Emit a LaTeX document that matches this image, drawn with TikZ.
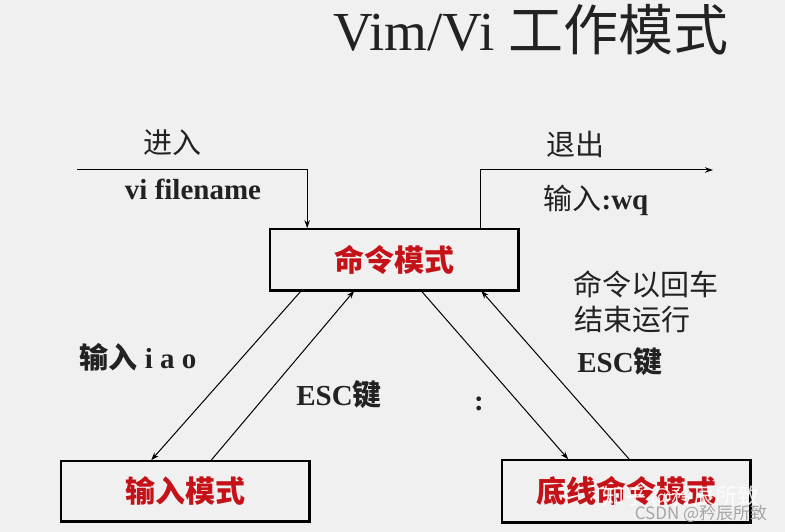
\documentclass[tikz,border=0pt]{standalone}
\usepackage{fontspec}
\setmainfont{Liberation Serif}
\newfontfamily\cjk{Noto Sans CJK SC}
\usetikzlibrary{arrows.meta}
\definecolor{bg}{RGB}{240,240,240}
\definecolor{txt}{RGB}{34,34,34}
\definecolor{boxred}{RGB}{196,18,24}
\begin{document}
\begin{tikzpicture}[x=1pt,y=-1pt,
  modebox/.style={draw=black, line width=1.6pt, minimum width=248pt, text=boxred,
    font=\cjk\bfseries\fontsize{30}{36}\selectfont, inner sep=0pt},
  lbl/.style={text=txt, font=\fontsize{29}{34}\selectfont, inner sep=0pt},
  conn/.style={line width=1pt, -{Stealth[length=8pt,width=5.5pt]}},
  shadowedge/.style={line width=2.8pt}]
\fill[bg] (0,0) rectangle (785,532);
\useasboundingbox (0,0) rectangle (785,532);

% title
\node[anchor=base west, inner sep=0pt, text=txt, font=\fontsize{55}{60}\selectfont] (title) at (333,51) {Vim/Vi {\cjk 工作模式}};

% boxes
\node[modebox, minimum height=61pt] (cmd) at (394,259.5) {命令模式};
\node[modebox, minimum height=60pt] (ins) at (185,491) {输入模式};
\node[modebox, minimum height=62pt] (last) at (626,491) {底线命令模式};
\foreach \b in {cmd,ins,last}{
  \draw[shadowedge] (\b.north east) -- (\b.south east) -- (\b.south west);
}

% entry / exit
\coordinate (entry) at (77,170);
\coordinate (exitend) at (713,170);
\draw[conn] (entry) -| ([xshift=38pt]cmd.north west);
\draw[conn] ([xshift=211pt]cmd.north west) |- (exitend);

% transitions
\draw[conn] ([xshift=32pt]cmd.south west) -- ([xshift=91pt]ins.north west);
\draw[conn] ([xshift=151pt]ins.north west) -- ([xshift=85pt]cmd.south west);
\draw[conn] ([xshift=152pt]cmd.south west) -- ([xshift=67pt]last.north west);
\draw[conn] ([xshift=128pt]last.north west) -- ([xshift=212pt]cmd.south west);

% labels
\node[lbl] (lin) at (172,143) {\cjk 进入};
\node[lbl] (lvi) at (193,189) {\bfseries vi filename};
\node[lbl] (lout) at (575,144) {\cjk 退出};
\node[lbl] (lwq) at (596,200) {{\cjk 输入}\bfseries :wq};
\node[lbl] (lret1) at (646,284) {\cjk 命令以回车};
\node[lbl] (lret2) at (632,320) {\cjk 结束运行};
\node[lbl] (lescr) at (620,362) {\bfseries ESC{\cjk 键}};
\node[lbl] (liao) at (138,357) {{\cjk\bfseries 输入} \bfseries i a o};
\node[lbl] (lescl) at (339,395) {\bfseries ESC{\cjk 键}};
\node[lbl] (lcolon) at (479,404) {\bfseries :};

% watermark
\node[inner sep=0pt, text=white, font=\cjk\fontsize{22}{26}\selectfont, opacity=0.85] (wm1) at (681,497) {知乎 @矜辰所致};
\node[inner sep=0pt, text=gray!70, font=\cjk\fontsize{17}{20}\selectfont] (wm2) at (701,514) {CSDN @矜辰所致};
\end{tikzpicture}
\end{document}
